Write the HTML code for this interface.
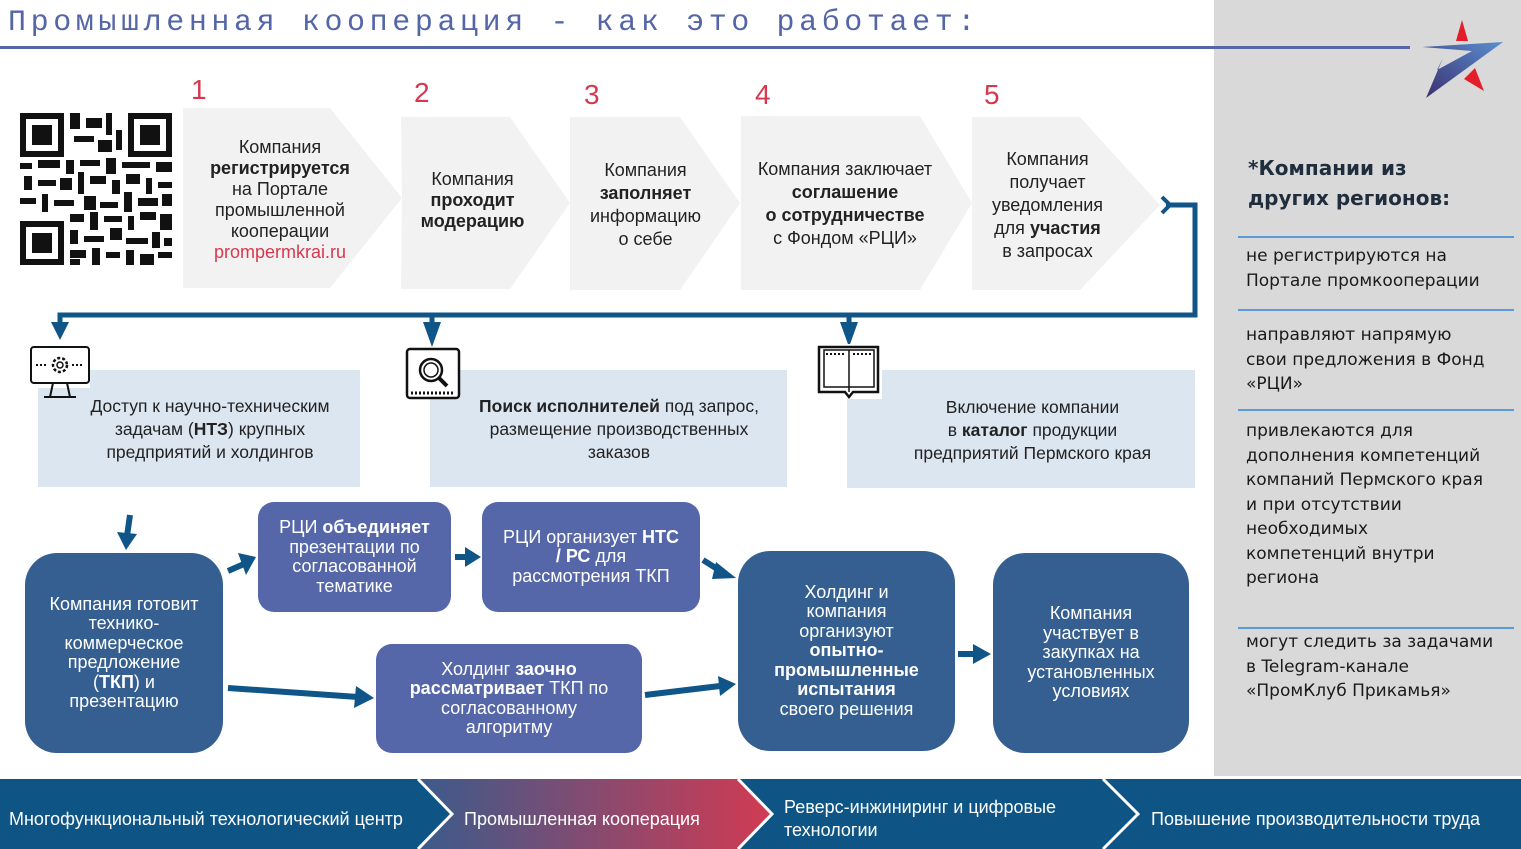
<!DOCTYPE html>
<html><head><meta charset="utf-8">
<style>
*{margin:0;padding:0;box-sizing:border-box}
body{width:1521px;height:849px;position:relative;background:#fff;overflow:hidden;font-family:"Liberation Sans",sans-serif}
.a{position:absolute}
.title{left:8px;top:6px;font-family:"Liberation Mono",monospace;font-size:30px;letter-spacing:4.6px;color:#5566a8;white-space:nowrap}
.num{color:#d6384f;font-size:28px}
.ct{position:absolute;text-align:center;font-size:18px;line-height:21px;color:#222}
.lb{position:absolute;text-align:center;font-size:17.5px;line-height:23px;color:#222;display:flex;align-items:center;justify-content:center}
.bx{position:absolute;display:flex;align-items:center;justify-content:center;text-align:center;color:#fff;font-size:18px;line-height:19.5px}
.dk{background:#355f91;border-radius:32px}
.pu{background:#5567a8;border-radius:16px}
.rp{position:absolute;left:1246px;font-family:"DejaVu Sans",sans-serif;font-size:17px;line-height:24.5px;color:#1a1a1a}
.sep{position:absolute;left:1238px;width:276px;height:2px;background:#5b9bd5}
.ft{position:absolute;color:#fff;font-size:18px;line-height:23px}
</style></head><body>
<div class="a" style="left:1214px;top:0;width:307px;height:776px;background:#d9d9d9"></div>
<div class="a title">Промышленная кооперация - как это работает:</div>
<div class="a" style="left:0;top:46px;width:1410px;height:3px;background:#5566a8"></div>
<svg class="a" style="left:1420px;top:15px" width="90" height="90" viewBox="0 0 90 90">
<polygon points="42,5 36,26 48,26" fill="#e31e2a"/><polygon points="55,53 64,76 44,64" fill="#e31e2a"/>
<defs><linearGradient id="g" x1="0" y1="1" x2="1" y2="0"><stop offset="0" stop-color="#3a2d6e"/><stop offset="1" stop-color="#5a8fcf"/></linearGradient></defs>
<polygon points="2,32 83,27 6,83 23,43 17,55 52,36" fill="url(#g)"/></svg>
<div class="a num" style="left:191px;top:74px">1</div>
<div class="a num" style="left:414px;top:77px">2</div>
<div class="a num" style="left:584px;top:79px">3</div>
<div class="a num" style="left:755px;top:79px">4</div>
<div class="a num" style="left:984px;top:79px">5</div>
<svg class="a" style="left:0;top:0" width="1521" height="849">
<polygon points="183,108 330,108 402,198 330,288 183,288" fill="#f2f2f2"/>
<polygon points="401,117 510,117 570,203 510,289 401,289 402,198" fill="#f2f2f2"/>
<polygon points="570,117 680,117 740,203 680,290 570,290" fill="#f2f2f2"/>
<polygon points="741,116 920,116 972,203 920,290 741,290" fill="#f2f2f2"/>
<polygon points="972,117 1080,117 1160,205 1080,290 972,290" fill="#f2f2f2"/>
<g fill="none" stroke="#0f5587" stroke-width="5">
<polyline points="1166,205 1195,205 1195,315 60,315 60,326"/>
<line x1="432" y1="315" x2="432" y2="326"/><line x1="849" y1="315" x2="849" y2="326"/></g>
<polyline points="1162,197 1170,205 1162,213" fill="none" stroke="#0f5587" stroke-width="4"/>
<g fill="#0f5587"><polygon points="51,322 69,322 60,340"/><polygon points="423,322 441,322 432,347"/><polygon points="840,322 858,322 849,347"/></g>
<g fill="#111">
<rect x="20" y="113" width="44" height="44"/><rect x="26" y="119" width="32" height="32" fill="#fff"/><rect x="32" y="125" width="20" height="20"/>
<rect x="128" y="113" width="44" height="44"/><rect x="134" y="119" width="32" height="32" fill="#fff"/><rect x="140" y="125" width="20" height="20"/>
<rect x="20" y="221" width="44" height="44"/><rect x="26" y="227" width="32" height="32" fill="#fff"/><rect x="32" y="233" width="20" height="20"/>
<rect x="70" y="113" width="10" height="16"/><rect x="86" y="118" width="16" height="10"/><rect x="106" y="113" width="6" height="22"/><rect x="74" y="136" width="20" height="6"/><rect x="98" y="140" width="14" height="12"/><rect x="116" y="130" width="6" height="20"/>
<rect x="20" y="163" width="12" height="6"/><rect x="38" y="160" width="22" height="8"/><rect x="66" y="160" width="8" height="14"/><rect x="80" y="160" width="20" height="6"/><rect x="106" y="158" width="10" height="16"/><rect x="122" y="162" width="28" height="6"/><rect x="156" y="162" width="16" height="10"/>
<rect x="24" y="176" width="8" height="14"/><rect x="38" y="180" width="18" height="6"/><rect x="60" y="178" width="12" height="12"/><rect x="78" y="172" width="6" height="22"/><rect x="90" y="176" width="16" height="8"/><rect x="112" y="180" width="8" height="14"/><rect x="126" y="174" width="14" height="10"/><rect x="146" y="178" width="6" height="16"/><rect x="158" y="182" width="14" height="6"/>
<rect x="20" y="198" width="16" height="6"/><rect x="42" y="194" width="6" height="18"/><rect x="54" y="200" width="20" height="6"/><rect x="84" y="196" width="12" height="14"/><rect x="100" y="202" width="18" height="6"/><rect x="124" y="192" width="8" height="20"/><rect x="138" y="198" width="20" height="8"/><rect x="162" y="194" width="10" height="12"/>
<rect x="70" y="214" width="14" height="8"/><rect x="90" y="212" width="8" height="18"/><rect x="104" y="216" width="18" height="6"/><rect x="128" y="216" width="6" height="14"/><rect x="140" y="212" width="16" height="8"/><rect x="160" y="214" width="12" height="16"/>
<rect x="70" y="230" width="8" height="14"/><rect x="84" y="236" width="20" height="6"/><rect x="110" y="228" width="12" height="12"/><rect x="126" y="238" width="22" height="6"/><rect x="152" y="232" width="8" height="16"/><rect x="164" y="238" width="8" height="8"/>
<rect x="70" y="250" width="16" height="8"/><rect x="92" y="248" width="8" height="17"/><rect x="106" y="252" width="14" height="6"/><rect x="126" y="250" width="8" height="15"/><rect x="140" y="254" width="14" height="11"/><rect x="158" y="252" width="14" height="6"/><rect x="70" y="259" width="10" height="6"/>
</g>
<rect x="38" y="370" width="322" height="117" fill="#dce6f1"/>
<rect x="430" y="370" width="357" height="117" fill="#dce6f1"/>
<rect x="847" y="370" width="348" height="118" fill="#dce6f1"/>
<rect x="30" y="346" width="60" height="42" fill="#fff"/>
<rect x="31" y="347" width="58" height="36" rx="3" fill="#fff" stroke="#111" stroke-width="2"/>
<circle cx="60" cy="365" r="7" fill="none" stroke="#111" stroke-width="2.5" stroke-dasharray="3 2"/><circle cx="60" cy="365" r="3" fill="none" stroke="#111" stroke-width="1.5"/>
<line x1="36" y1="365" x2="48" y2="365" stroke="#111" stroke-width="2" stroke-dasharray="2 2"/><line x1="72" y1="365" x2="84" y2="365" stroke="#111" stroke-width="2" stroke-dasharray="2 2"/>
<line x1="53" y1="383" x2="50" y2="397" stroke="#111" stroke-width="2"/><line x1="67" y1="383" x2="70" y2="397" stroke="#111" stroke-width="2"/><line x1="44" y1="397" x2="76" y2="397" stroke="#111" stroke-width="2"/>
<rect x="407" y="349" width="52" height="49" rx="3" fill="#fff" stroke="#111" stroke-width="2.5"/>
<circle cx="431" cy="370" r="11" fill="none" stroke="#111" stroke-width="2.5"/><circle cx="431" cy="370" r="7" fill="none" stroke="#111" stroke-width="1.5"/><line x1="439" y1="378" x2="447" y2="386" stroke="#111" stroke-width="4"/>
<line x1="411" y1="393" x2="455" y2="393" stroke="#111" stroke-width="3" stroke-dasharray="2 2"/>
<rect x="816" y="344" width="66" height="55" fill="#fff"/>
<path d="M819,347 h59 v45 h-25 l-4,5 l-4,-5 h-26 z" fill="#fff" stroke="#111" stroke-width="2.5"/>
<line x1="849" y1="350" x2="849" y2="392" stroke="#111" stroke-width="1.5"/><rect x="824" y="350" width="50" height="37" fill="none" stroke="#111" stroke-width="1.5"/>
<line x1="826" y1="354" x2="845" y2="354" stroke="#111" stroke-width="2" stroke-dasharray="2 2"/><line x1="853" y1="354" x2="872" y2="354" stroke="#111" stroke-width="2" stroke-dasharray="2 2"/>
<g stroke="#0f5587" stroke-width="6" fill="#0f5587">
<line x1="130" y1="515" x2="127" y2="536"/><polygon points="117,532 137,534 126,550" stroke="none"/>
<line x1="228" y1="571" x2="244" y2="564"/><polygon points="238,553 256,557 246,575" stroke="none"/>
<line x1="455" y1="557" x2="466" y2="557"/><polygon points="465,547 481,557 465,567" stroke="none"/>
<line x1="703" y1="560" x2="722" y2="572"/><polygon points="716,562 736,578 712,579" stroke="none"/>
<line x1="228" y1="688" x2="358" y2="697"/><polygon points="356,686 374,698 354,708" stroke="none"/>
<line x1="645" y1="695" x2="720" y2="686"/><polygon points="718,676 736,684 720,696" stroke="none"/>
<line x1="958" y1="654" x2="976" y2="654"/><polygon points="973,644 991,654 973,664" stroke="none"/>
</g>
<defs><linearGradient id="fg" x1="0" x2="1"><stop offset="0" stop-color="#3b5b8c"/><stop offset="1" stop-color="#d23a52"/></linearGradient></defs>
<rect x="0" y="779" width="1521" height="70" fill="#0e5586"/>
<polygon points="418,779 740,779 772,814 740,849 418,849 450,814" fill="url(#fg)"/>
<g stroke="#fff" stroke-width="3" fill="none"><polyline points="418,779 452,814 418,849"/><polyline points="738,779 772,814 738,849"/><polyline points="1103,779 1138,814 1103,849"/></g>
</svg>
<div class="ct" style="left:190px;top:137px;width:180px">Компания<br><b>регистрируется</b><br>на Портале<br>промышленной<br>кооперации<br><span style="color:#d6384f">prompermkrai.ru</span></div>
<div class="ct" style="left:400px;top:169px;width:145px">Компания<br><b>проходит</b><br><b>модерацию</b></div>
<div class="ct" style="left:573px;top:159px;width:145px;line-height:23px">Компания<br><b>заполняет</b><br>информацию<br>о себе</div>
<div class="ct" style="left:741px;top:158px;width:208px;line-height:23px">Компания заключает<br><b>соглашение<br>о сотрудничестве</b><br>с Фондом «РЦИ»</div>
<div class="ct" style="left:975px;top:148px;width:145px;line-height:23px">Компания<br>получает<br>уведомления<br>для <b>участия</b><br>в запросах</div>
<div class="lb" style="left:55px;top:395px;width:310px"><span>Доступ к научно-техническим<br>задачам (<b>НТЗ</b>) крупных<br>предприятий и холдингов</span></div>
<div class="lb" style="left:435px;top:395px;width:368px"><span><b>Поиск исполнителей</b> под запрос,<br>размещение производственных<br>заказов</span></div>
<div class="lb" style="left:870px;top:396px;width:325px"><span>Включение компании<br>в <b>каталог</b> продукции<br>предприятий Пермского края</span></div>
<div class="bx dk" style="left:25px;top:553px;width:198px;height:200px;padding:0 18px"><span>Компания готовит технико-коммерческое предложение (<b>ТКП</b>) и презентацию</span></div>
<div class="bx pu" style="left:258px;top:502px;width:193px;height:110px;padding:0 8px"><span>РЦИ <b>объединяет</b> презентации по согласованной тематике</span></div>
<div class="bx pu" style="left:482px;top:502px;width:218px;height:110px;padding:0 18px"><span>РЦИ организует <b>НТС / РС</b> для рассмотрения ТКП</span></div>
<div class="bx pu" style="left:376px;top:644px;width:266px;height:109px;padding:0 26px"><span>Холдинг <b>заочно рассматривает</b> ТКП по согласованному алгоритму</span></div>
<div class="bx dk" style="left:738px;top:551px;width:217px;height:200px;padding:0 36px"><span>Холдинг и компания организуют <b>опытно-промышленные испытания</b> своего решения</span></div>
<div class="bx dk" style="left:993px;top:553px;width:196px;height:200px;padding:0 32px"><span>Компания участвует в закупках на установленных условиях</span></div>
<div class="a" style="left:1248px;top:153px;font-family:'DejaVu Sans',sans-serif;font-weight:bold;font-size:20px;line-height:30px;color:#1f2d3d">*Компании из<br>других регионов:</div>
<div class="sep" style="top:236px"></div>
<div class="rp" style="top:244px">не регистрируются на<br>Портале промкооперации</div>
<div class="sep" style="top:309px"></div>
<div class="rp" style="top:323px">направляют напрямую<br>свои предложения в Фонд<br>«РЦИ»</div>
<div class="sep" style="top:409px"></div>
<div class="rp" style="top:419px">привлекаются для<br>дополнения компетенций<br>компаний Пермского края<br>и при отсутствии<br>необходимых<br>компетенций внутри<br>региона</div>
<div class="sep" style="top:627px"></div>
<div class="rp" style="top:630px">могут следить за задачами<br>в Telegram-канале<br>«ПромКлуб Прикамья»</div>
<div class="ft" style="left:9px;top:808px">Многофункциональный технологический центр</div>
<div class="ft" style="left:464px;top:808px">Промышленная кооперация</div>
<div class="ft" style="left:784px;top:796px">Реверс-инжиниринг и цифровые<br>технологии</div>
<div class="ft" style="left:1151px;top:808px">Повышение производительности труда</div>
</body></html>
